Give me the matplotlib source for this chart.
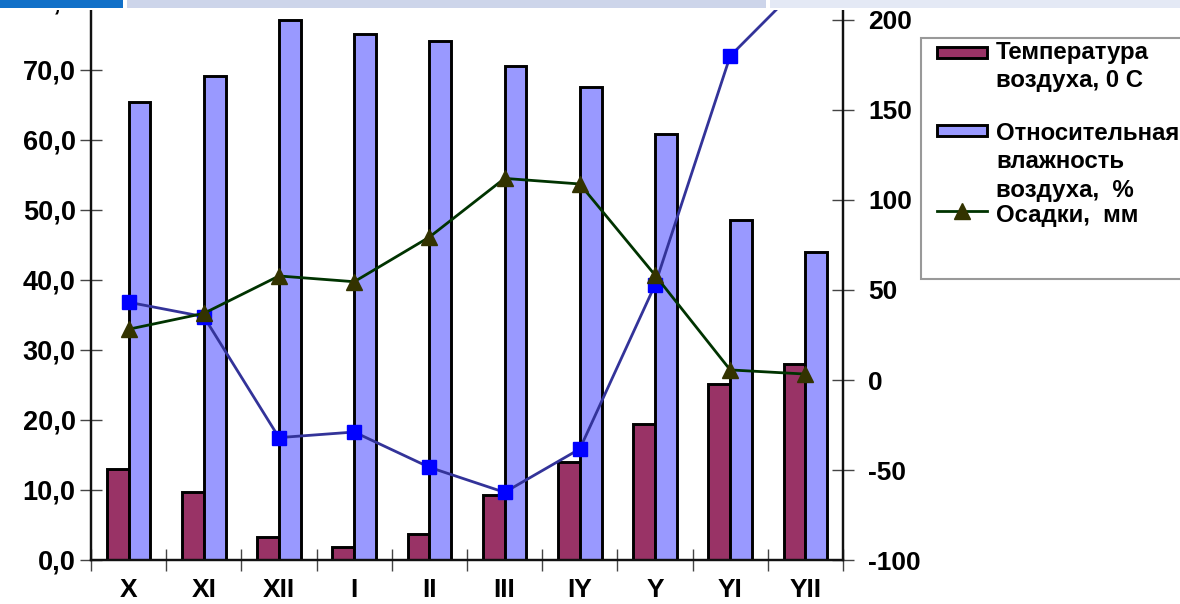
import matplotlib
matplotlib.use("Agg")
import matplotlib.pyplot as plt
from matplotlib.patches import Rectangle
from matplotlib.lines import Line2D
from matplotlib.ticker import FixedLocator, FuncFormatter, NullFormatter
import numpy as np

plt.rcParams['font.family'] = ['Liberation Sans', 'DejaVu Sans']
plt.rcParams['font.weight'] = 'bold'

# Months (roman numerals as printed)
months = ["X", "XI", "XII", "I", "II", "III", "IY", "Y", "YI", "YII"]
# Air temperature, deg C (left axis)
temperature = [13.0, 9.7, 3.3, 1.9, 3.7, 9.3, 14.0, 19.5, 25.2, 28.0]
# Relative humidity, % (left axis)
humidity = [65.5, 69.1, 77.1, 75.1, 74.1, 70.6, 67.6, 60.9, 48.6, 44.0]
# Precipitation, mm (right axis)
precipitation = [28.2, 37.0, 57.8, 54.6, 79.4, 112.0, 108.9, 58.3, 5.6, 3.3]
# Second line series (right axis)
second_series = [43.2, 35.2, -32.0, -28.9, -48.5, -62.4, -38.3, 52.8, 180.0, 222.0]

W, H = 1180, 604
fig = plt.figure(figsize=(W / 100, H / 100), dpi=100)
fig.patch.set_facecolor("white")


def fx(x):
    return x / W


def fy(y):
    return 1 - y / H


ax = fig.add_axes([fx(91), fy(560), (843 - 91) / W, 560 / H])
ax2 = ax.twinx()

x = np.arange(len(months))
bw = 0.29
maroon = "#993366"
lilac = "#9999FF"
ax.bar(x - bw / 2, temperature, width=bw, color=maroon, edgecolor="black", linewidth=2.1, zorder=2)
ax.bar(x + bw / 2, humidity, width=bw, color=lilac, edgecolor="black", linewidth=2.1, zorder=2)

ax2.plot(x, second_series, color="#333399", lw=2.0, marker="s", ms=10.5,
         mfc="#0000FF", mec="#0000FF", zorder=3)
ax2.plot(x, precipitation, color="#003300", lw=2.0, marker="^", ms=11.5,
         mfc="#333300", mec="#333300", zorder=4)

ax.set_xlim(-0.5, len(months) - 0.5)
ax.set_ylim(0, 80)
ax2.set_ylim(-100, 380 / 1.8)

# x axis: ticks on category boundaries, labels at centres
ax.xaxis.set_major_locator(FixedLocator(np.arange(-0.5, len(months), 1.0)))
ax.xaxis.set_major_formatter(NullFormatter())
ax.xaxis.set_minor_locator(FixedLocator(x))
ax.xaxis.set_minor_formatter(FuncFormatter(lambda v, p: months[int(round(v))]))
ax.tick_params(axis="x", which="major", direction="inout", length=16, width=1.0, color="#444444")
ax.tick_params(axis="x", which="minor", length=0, pad=13, labelsize=19)

ax.yaxis.set_major_locator(FixedLocator(np.arange(0, 81, 10)))
ax.yaxis.set_major_formatter(FuncFormatter(lambda v, p: f"{v:.1f}".replace(".", ",")))
ax.tick_params(axis="y", direction="inout", length=16, width=1.0, color="#444444", pad=3, labelsize=19.5)

ax2.yaxis.set_major_locator(FixedLocator(np.arange(-100, 201, 50)))
ax2.yaxis.set_major_formatter(FuncFormatter(lambda v, p: f"{v:.0f}"))
ax2.tick_params(axis="y", direction="inout", length=16, width=1.0, color="#444444", pad=10, labelsize=19)

for a in (ax, ax2):
    a.spines["top"].set_visible(False)
    for s in ("left", "right", "bottom"):
        a.spines[s].set_linewidth(1.6)
        a.spines[s].set_color("#111111")
ax.patch.set_visible(False)

# Legend box drawn in pixel positions
def prect(x0, y0, x1, y1, **kw):
    r = Rectangle((fx(x0), fy(y1)), fx(x1) - fx(x0), fy(y0) - fy(y1),
                  transform=fig.transFigure, **kw)
    fig.add_artist(r)
    return r

prect(921, 38, 1200, 279, facecolor="white", edgecolor="#999999", lw=1.5, zorder=5)
prect(937, 47, 987, 58, facecolor=maroon, edgecolor="black", lw=2.1, zorder=6)
prect(937, 125, 987, 136, facecolor=lilac, edgecolor="black", lw=2.1, zorder=6)
fig.add_artist(Line2D([fx(937), fx(987)], [fy(211), fy(211)], transform=fig.transFigure,
                      color="#003300", lw=2.0, zorder=6))
fig.add_artist(Line2D([fx(962)], [fy(211)], transform=fig.transFigure, marker="^", ms=11.5,
                      mfc="#333300", mec="#333300", lw=0, zorder=7))

legend_lines = [
    ("Температура", 59), ("воздуха, 0 С", 87),
    ("Относительная", 140), ("влажность", 168), ("воздуха,  %", 197),
    ("Осадки,  мм", 222),
]
for txt, yb in legend_lines:
    fig.text(fx(996), fy(yb), txt, fontsize=17.3, fontweight="bold", va="baseline",
             ha="left", zorder=7)

# Window strip across the top edge
prect(0, 0, W, 10, facecolor="white", edgecolor="none", zorder=8)
prect(0, 0, 123, 8, facecolor="#1170C8", edgecolor="none", zorder=9)
prect(127, 0, 766, 8, facecolor="#CDD5EA", edgecolor="none", zorder=9)
prect(770, 0, W, 8, facecolor="#E4E9F5", edgecolor="none", zorder=9)

fig.savefig("out.png", dpi=100, facecolor="white")
